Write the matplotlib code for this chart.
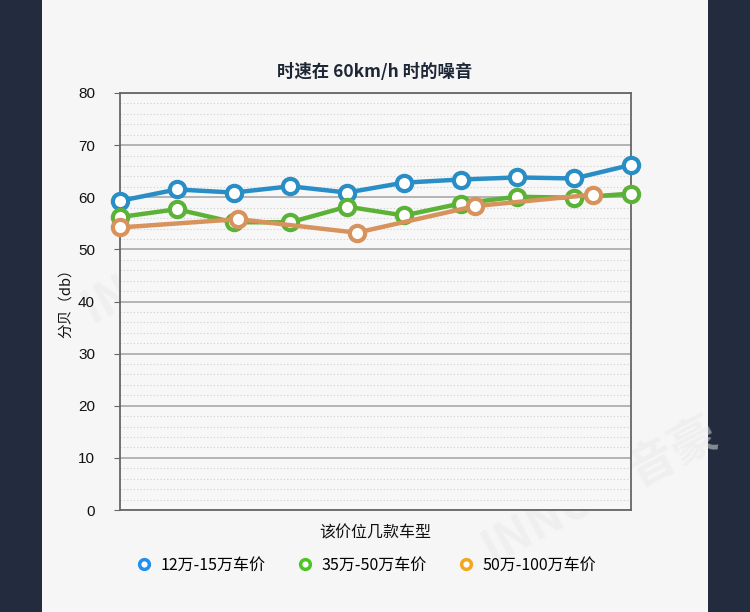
import matplotlib
matplotlib.use("Agg")
import matplotlib.pyplot as plt
from matplotlib.lines import Line2D
from matplotlib.patches import Rectangle

plt.rcParams['font.family'] = ['Noto Sans CJK SC', 'DejaVu Sans']

title = "时速在 60km/h 时的噪音"
xlabel = "该价位几款车型"
ylabel = "分贝（db）"
series_names = ["12万-15万车价", "35万-50万车价", "50万-100万车价"]

x_blue = [0, 1, 2, 3, 4, 5, 6, 7, 8, 9]
blue = [59.3, 61.5, 60.9, 62.1, 60.9, 62.8, 63.4, 63.8, 63.6, 66.2]
x_green = [0, 1, 2, 3, 4, 5, 6, 7, 8, 9]
green = [56.2, 57.7, 55.2, 55.2, 58.2, 56.5, 58.8, 60.1, 59.9, 60.7]
x_orange = [0, 2.08, 4.17, 6.25, 8.33]
orange = [54.2, 55.8, 53.2, 58.3, 60.5]

yticks = [0, 10, 20, 30, 40, 50, 60, 70, 80]

line_colors = ["#2a8ec6", "#5cb237", "#d8925c"]
legend_colors = ["#1e90f0", "#4cc423", "#f2a81a"]

fig = plt.figure(figsize=(7.5, 6.12), dpi=100)
fig.patch.set_facecolor("#232c3e")
fig.add_artist(Rectangle((42/750, 0), (708-42)/750, 1, transform=fig.transFigure,
                         facecolor="#f6f6f6", edgecolor="none", zorder=0))

ax = fig.add_axes([120/750, 1-510/612, (631-120)/750, (510-93)/612])
ax.set_facecolor("#f7f7f7")
ax.set_zorder(2)

for xs, ys, c in zip([x_blue, x_green, x_orange], [blue, green, orange], line_colors):
    ax.plot(xs, ys, color=c, lw=3.2, marker="o", markersize=11,
            markerfacecolor="white", markeredgecolor=c, markeredgewidth=3, zorder=5,
            clip_on=False)

ax.set_xlim(0, 9)
ax.set_ylim(0, 80)
ax.set_yticks(yticks)
ax.set_yticks([v for v in range(0, 81, 2) if v % 10 != 0], minor=True)
ax.set_xticks([])
ax.tick_params(axis="y", which="major", labelsize=11, length=4, color="#666666", pad=14,
               labelcolor="#111111")
for lab in ax.get_yticklabels():
    lab.set_family(["Liberation Sans", "DejaVu Sans"])
ax.tick_params(axis="y", which="minor", length=0)
ax.grid(True, axis="y", which="major", color="#a8a8a8", lw=1.2)
ax.grid(True, axis="y", which="minor", color="#cfcfcf", lw=0.8, ls=(0, (1, 2)))
ax.set_axisbelow(True)
for s in ax.spines.values():
    s.set_color("#666666")
    s.set_linewidth(1.3)

fig.text(375/750, 1-72/612, title, ha="center", va="center", fontsize=12.5,
         fontweight="bold", color="#1e2736")
fig.text(375/750, 1-533/612, xlabel, ha="center", va="center", fontsize=11.5, color="#111111")
fig.text(66/750, 1-300/612, ylabel, ha="center", va="center", fontsize=10.5, rotation=90,
         color="#111111")

handles = [Line2D([], [], lw=0, marker="o", markersize=7, markerfacecolor="white",
                  markeredgecolor=c, markeredgewidth=2.5) for c in legend_colors]
fig.legend(handles, series_names, loc="center", bbox_to_anchor=(366/750, 1-565/612),
           ncol=3, frameon=False, fontsize=11.5, handletextpad=0.5, columnspacing=2.0,
           handlelength=1.0)

# faint watermarks
for (wx, wy) in [(200/750, 1-250/612), (600/750, 1-490/612)]:
    fig.text(wx, wy, "INNOW音豪", fontsize=34, fontweight="bold", color="#e9e9e9",
             rotation=28, ha="center", va="center", zorder=1, alpha=0.5)

fig.savefig("out.png", dpi=100, facecolor=fig.get_facecolor())
